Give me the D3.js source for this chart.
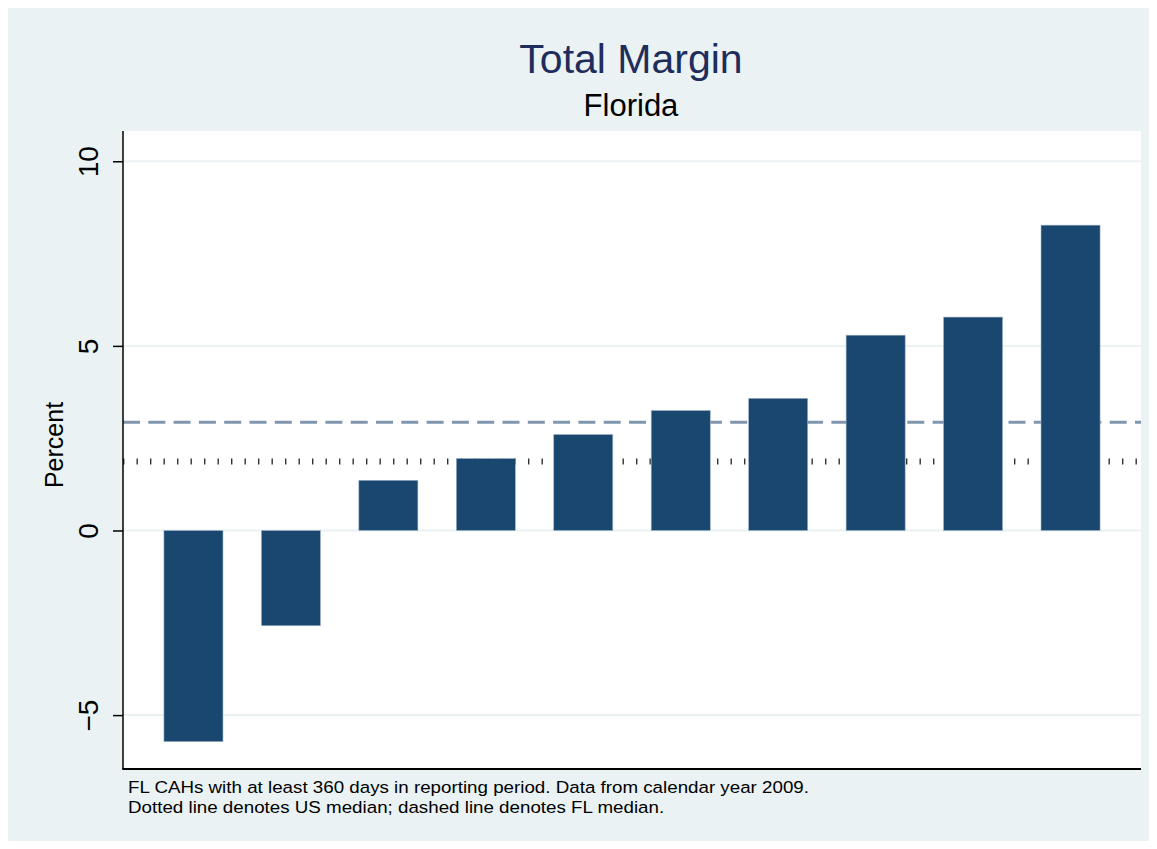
<!DOCTYPE html>
<html>
<head>
<meta charset="utf-8">
<title>Total Margin - Florida</title>
<script src="https://d3js.org/d3.v7.min.js"></script>
<style>
  body { margin: 0; background: #ffffff; }
  text { font-family: "Liberation Sans", Arial, sans-serif; }
</style>
</head>
<body>
<svg id="chart" width="1157" height="849"></svg>
<script>
// hospitals, sorted by total margin (no labels in the original)
var hospitals = ["1", "2", "3", "4", "5", "6", "7", "8", "9", "10"]
var margins = [-5.72, -2.58, 1.36, 1.95, 2.60, 3.25, 3.58, 5.29, 5.78, 8.27]
var yTicks = [-5, 0, 5, 10]
var flMedian = 2.93
var usMedian = 1.87
var notes = [
  "FL CAHs with at least 360 days in reporting period. Data from calendar year 2009.",
  "Dotted line denotes US median; dashed line denotes FL median."
]

var width = 1157, height = 849
var plot = {left: 123, right: 1141, top: 131, bottom: 769}

var svg = d3.select("#chart")

// outer panel
svg.append("rect")
  .attr("x", 8).attr("y", 8)
  .attr("width", width - 16).attr("height", height - 16)
  .attr("fill", "#eaf2f3")

// plot region
svg.append("rect")
  .attr("x", plot.left).attr("y", plot.top)
  .attr("width", plot.right - plot.left).attr("height", plot.bottom - plot.top)
  .attr("fill", "#ffffff")

var x = d3.scaleBand()
  .domain(hospitals)
  .range([plot.left, plot.right])
  .paddingInner(0.394)
  .paddingOuter(0.42)

var y = d3.scaleLinear()
  .domain([-6.46, 10.82])
  .range([plot.bottom, plot.top])

// gridlines
svg.append("g")
  .selectAll("line")
  .data(yTicks)
  .enter()
  .append("line")
    .attr("x1", plot.left).attr("x2", plot.right)
    .attr("y1", function(d) { return y(d) }).attr("y2", function(d) { return y(d) })
    .attr("stroke", "#eaf2f3")
    .attr("stroke-width", 2)

// median lines (drawn under the bars)
svg.append("line")
  .attr("x1", plot.left).attr("x2", plot.right)
  .attr("y1", y(usMedian)).attr("y2", y(usMedian))
  .attr("stroke", "#333333")
  .attr("stroke-width", 6)
  .attr("stroke-dasharray", "1.4 12.1")

svg.append("line")
  .attr("x1", plot.left).attr("x2", plot.right)
  .attr("y1", y(flMedian)).attr("y2", y(flMedian))
  .attr("stroke", "#8096ae")
  .attr("stroke-width", 3)
  .attr("stroke-dasharray", "17 8.3")

// bars
svg.append("g")
  .selectAll("rect")
  .data(margins)
  .enter()
  .append("rect")
    .attr("x", function(d, i) { return x(hospitals[i]) })
    .attr("width", x.bandwidth())
    .attr("y", function(d) { return y(Math.max(0, d)) })
    .attr("height", function(d) { return Math.abs(y(d) - y(0)) })
    .attr("fill", "#1a476f")
    .attr("stroke", "#9fb5ca")
    .attr("stroke-width", 0.6)

// y axis
var yAxis = d3.axisLeft(y)
  .tickValues(yTicks)
  .tickSize(10)
  .tickPadding(0)
  .tickFormat(function(d) { return d < 0 ? "\u2212" + Math.abs(d) : d })

var gy = svg.append("g")
  .attr("transform", "translate(" + plot.left + ",0)")
  .call(yAxis)
gy.select(".domain")
  .attr("d", "M0," + plot.top + "V" + plot.bottom)
  .attr("stroke", "#000")
  .attr("stroke-width", 1.5)
gy.selectAll(".tick line").attr("stroke", "#000").attr("stroke-width", 1.5)
gy.selectAll(".tick text")
  .attr("x", null).attr("dy", null)
  .attr("transform", "translate(-25,0) rotate(-90)")
  .attr("text-anchor", "middle")
  .style("font-size", "28px")
  .style("font-family", "'Liberation Sans', Arial, sans-serif")
  .attr("fill", "#000")

// x axis line
svg.append("line")
  .attr("x1", plot.left - 0.75).attr("x2", plot.right)
  .attr("y1", plot.bottom).attr("y2", plot.bottom)
  .attr("stroke", "#000")
  .attr("stroke-width", 2)

// y axis title
svg.append("text")
  .attr("transform", "translate(63,445) rotate(-90)")
  .attr("text-anchor", "middle")
  .style("font-size", "25px")
  .text("Percent")

// titles
svg.append("text")
  .attr("x", 631).attr("y", 73)
  .attr("text-anchor", "middle")
  .attr("fill", "#1f2d5c")
  .style("font-size", "41px")
  .text("Total Margin")

svg.append("text")
  .attr("x", 631).attr("y", 116)
  .attr("text-anchor", "middle")
  .attr("fill", "#000")
  .style("font-size", "31px")
  .text("Florida")

// notes: the original face is a bit wider than Liberation Sans,
// so stretch both lines by the same factor (first line ends near x = 809)
var noteText = svg.append("g")
  .selectAll("text")
  .data(notes)
  .enter()
  .append("text")
    .attr("x", 128)
    .attr("y", function(d, i) { return 793 + i * 19.5 })
    .style("font-size", "16.8px")
    .text(function(d) { return d })

var stretch = 681 / noteText.node().getComputedTextLength()
noteText.each(function() {
  d3.select(this)
    .attr("textLength", this.getComputedTextLength() * stretch)
    .attr("lengthAdjust", "spacingAndGlyphs")
})
</script>
</body>
</html>
